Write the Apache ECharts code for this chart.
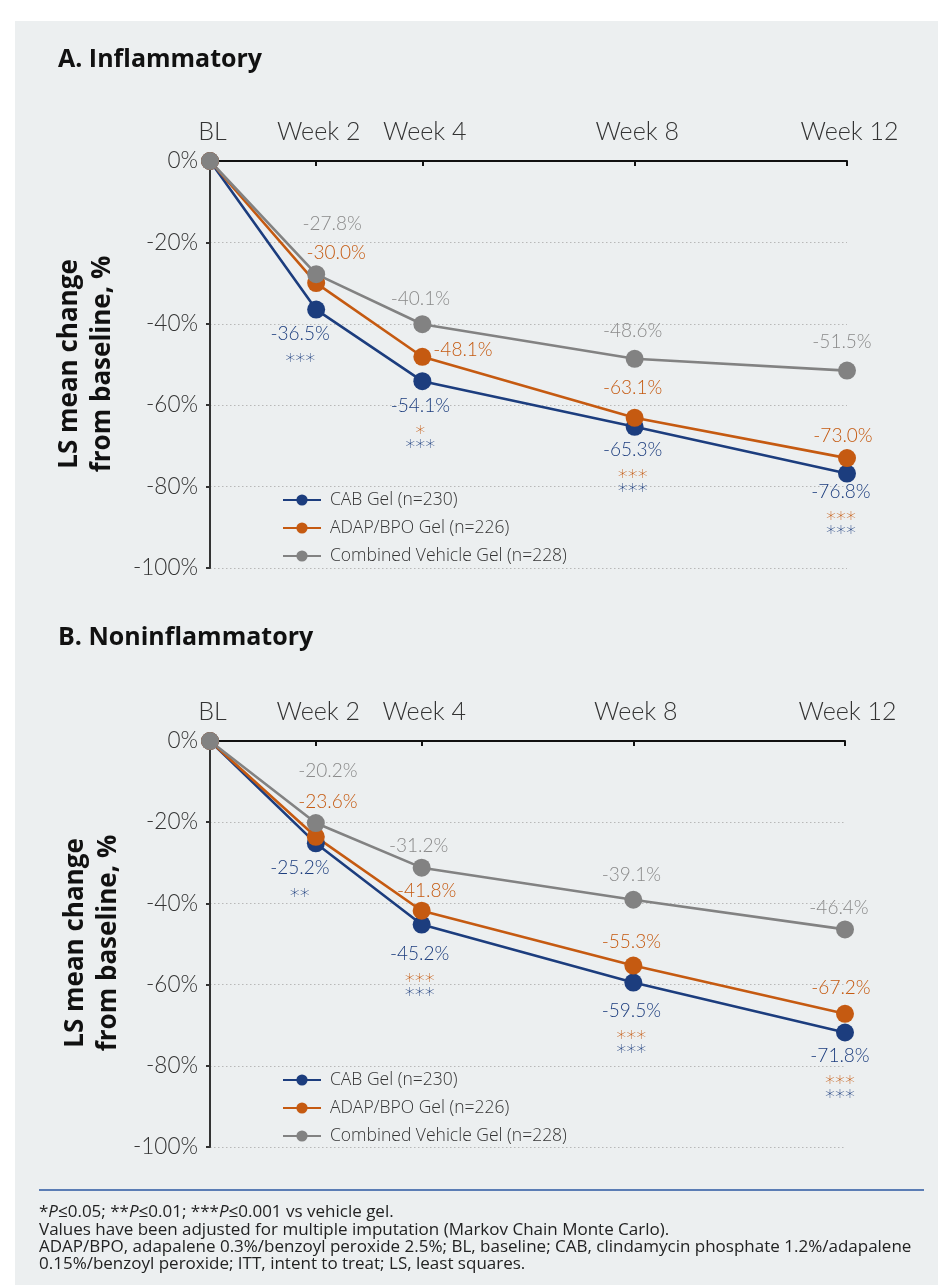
<!DOCTYPE html>
<html>
<head>
<meta charset="utf-8">
<script src="https://cdn.jsdelivr.net/npm/echarts@6/dist/echarts.min.js"></script>
<style>
  html, body { margin: 0; padding: 0; background: #ffffff; }
  #c { width: 938px; height: 1285px; }
</style>
</head>
<body>
<div id="c"></div>
<script>
// ---------------- DATA ----------------
const weeks = [0, 2, 4, 8, 12];
const weekLabels = ['BL', 'Week 2', 'Week 4', 'Week 8', 'Week 12'];
const seriesNames = ['CAB Gel (n=230)', 'ADAP/BPO Gel (n=226)', 'Combined Vehicle Gel (n=228)'];

const inflamCAB  = [0, -36.5, -54.1, -65.3, -76.8];
const inflamADAP = [0, -30.0, -48.1, -63.1, -73.0];
const inflamVeh  = [0, -27.8, -40.1, -48.6, -51.5];
const inflamSigCAB  = ['', '***', '***', '***', '***'];
const inflamSigADAP = ['', '', '*', '***', '***'];

const noninflamCAB  = [0, -25.2, -45.2, -59.5, -71.8];
const noninflamADAP = [0, -23.6, -41.8, -55.3, -67.2];
const noninflamVeh  = [0, -20.2, -31.2, -39.1, -46.4];
const noninflamSigCAB  = ['', '**', '***', '***', '***'];
const noninflamSigADAP = ['', '', '***', '***', '***'];

const panelTitles = ['A. Inflammatory', 'B. Noninflammatory'];
const yAxisTitle = 'LS mean change\nfrom baseline, %';
const footnotes = [
  '*{i|P}≤0.05; **{i|P}≤0.01; ***{i|P}≤0.001 vs vehicle gel.',
  'Values have been adjusted for multiple imputation (Markov Chain Monte Carlo).',
  'ADAP/BPO, adapalene 0.3%/benzoyl peroxide 2.5%; BL, baseline; CAB, clindamycin phosphate 1.2%/adapalene',
  '0.15%/benzoyl peroxide; ITT, intent to treat; LS, least squares.'
];

// ---------------- STYLE / LAYOUT ----------------
const COL_CAB = '#1C3D7E', COL_ADAP = '#C55A11', COL_VEH = '#828282', COL_VEH_TXT = '#8A8A8A';
const FONT = 'Lato, "Open Sans", "DejaVu Sans", sans-serif';
const FONT_W = '"Open Sans", Lato, "DejaVu Sans", sans-serif';
const FONT_STAR = '"DejaVu Sans", sans-serif';
// label offsets relative to each point [dx, dy, align]
const labelLayout = {
  A: {
    cab:  [null, [-16, 24], [-2, 25], [-2, 23], [-6, 18]],
    adap: [null, [20, -30], [11, -7, 'left'], [-2, -30], [-4, -22]],
    veh:  [null, [16, -50], [-2, -25], [-2, -28], [-5, -29]]
  },
  B: {
    cab:  [null, [-16, 25], [-2, 29], [-2, 28], [-5, 23]],
    adap: [null, [12, -35], [5, -20], [-2, -24], [-4, -26]],
    veh:  [null, [12, -52], [-3, -22], [-2, -25], [-6, -22]]
  }
};
const grids = [
  { left: 210, top: 161, width: 637, height: 407 },
  { left: 210, top: 741, width: 635, height: 406 }
];

function makeSeries(name, vals, color, txtColor, gi, offs, sigSelf, sigOther) {
  const isCab = !!sigSelf;
  const data = weeks.map((w, i) => {
    const item = { value: [w, vals[i]] };
    if (i === 0) {
      item.label = { show: false };
    } else {
      const o = offs[i];
      item.label = {
        offset: [o[0], isCab ? o[1] - 11 : o[1]],
        align: o[2] || 'center',
        verticalAlign: isCab ? 'top' : 'middle'
      };
    }
    return item;
  });
  return {
    name: name,
    type: 'line',
    xAxisIndex: gi,
    yAxisIndex: gi,
    data: data,
    clip: false,
    symbol: 'circle',
    symbolSize: 18,
    lineStyle: { color: color, width: 2.6 },
    itemStyle: { color: color },
    emphasis: { disabled: true },
    label: {
      show: true,
      position: 'inside',
      fontFamily: FONT,
      fontSize: 19,
      fontWeight: 300,
      color: txtColor,
      formatter: function (p) {
        const v = vals[p.dataIndex].toFixed(1) + '%';
        if (!isCab) return v;
        let s = '{v|' + v + '}\n{g| }';
        if (sigOther[p.dataIndex]) s += '\n{so|' + sigOther[p.dataIndex] + '}';
        if (sigSelf[p.dataIndex]) s += '\n{sb|' + sigSelf[p.dataIndex] + '}';
        return s;
      },
      rich: {
        v: { fontFamily: FONT, fontSize: 19, fontWeight: 300, color: COL_CAB, lineHeight: 22 },
        g: { fontSize: 6, lineHeight: 10 },
        so: { fontFamily: FONT_STAR, fontSize: 20, color: COL_ADAP, lineHeight: 14 },
        sb: { fontFamily: FONT_STAR, fontSize: 20, color: COL_CAB, lineHeight: 14 }
      }
    },
    z: 3
  };
}

function xAxisFor(gi) {
  return {
    type: 'value', gridIndex: gi, position: 'top', min: 0, max: 12,
    axisLine: { show: true, onZero: false, lineStyle: { color: '#111', width: 2 } },
    axisTick: { show: true, inside: true, length: 5, customValues: [2, 4, 8, 12], lineStyle: { color: '#111', width: 2 } },
    axisLabel: {
      customValues: weeks,
      margin: 17,
      padding: [0, 0, 0, 5],
      fontFamily: FONT, fontSize: 25, fontWeight: 300, color: '#333',
      formatter: function (v) { return weekLabels[weeks.indexOf(v)]; }
    },
    splitLine: { show: false }
  };
}
function yAxisFor(gi) {
  return {
    type: 'value', gridIndex: gi, min: -100, max: 0, interval: 20,
    axisLine: { show: true, onZero: false, lineStyle: { color: '#333', width: 2 } },
    axisTick: { show: true, length: 4, lineStyle: { color: '#333', width: 2 } },
    axisLabel: { margin: 12, fontFamily: FONT, fontSize: 22.5, fontWeight: 300, color: '#333', formatter: '{value}%' },
    splitLine: { show: true, lineStyle: { color: '#b8b8b8', width: 1, type: [1.5, 2.5] } }
  };
}
function legendFor(top) {
  return {
    orient: 'vertical', left: 277, top: top,
    itemWidth: 38, itemHeight: 14, itemGap: 10,
    selectedMode: false,
    textStyle: { fontFamily: FONT_W, fontSize: 17.5, fontWeight: 300, color: '#333', padding: [0, 0, 0, 4] },
    data: seriesNames
  };
}

const graphic = [
  { type: 'rect', z: -10, shape: { x: 15, y: 21, width: 923, height: 1264 }, style: { fill: '#ECEFF0' } },
  { type: 'text', x: 58, y: 60, style: { text: panelTitles[0], fontFamily: FONT_W, fontSize: 25, fontWeight: 'bold', fill: '#111', verticalAlign: 'middle' } },
  { type: 'text', x: 58, y: 638, style: { text: panelTitles[1], fontFamily: FONT_W, fontSize: 25, fontWeight: 'bold', fill: '#111', verticalAlign: 'middle' } },
  { type: 'text', x: 86, y: 364, rotation: Math.PI / 2, style: { text: yAxisTitle, fontFamily: FONT_W, fontSize: 26, fontWeight: 'bold', fill: '#111', align: 'center', verticalAlign: 'middle', lineHeight: 33 } },
  { type: 'text', x: 92, y: 943, rotation: Math.PI / 2, style: { text: yAxisTitle, fontFamily: FONT_W, fontSize: 26, fontWeight: 'bold', fill: '#111', align: 'center', verticalAlign: 'middle', lineHeight: 33 } },
  { type: 'line', shape: { x1: 39, y1: 1190, x2: 924, y2: 1190 }, style: { stroke: '#5B7DB5', lineWidth: 2 } }
];
const footY = [1212, 1230, 1247, 1264];
footnotes.forEach(function (t, i) {
  graphic.push({
    type: 'text', x: 39, y: footY[i],
    style: {
      text: t, fontFamily: FONT_W, fontSize: 17, fill: '#222', verticalAlign: 'middle',
      rich: { i: { fontFamily: FONT_W, fontSize: 17, fontStyle: 'italic', fill: '#222' } }
    }
  });
});

const chart = echarts.init(document.getElementById('c'), null, { renderer: 'canvas', width: 938, height: 1285 });
chart.setOption({
  backgroundColor: '#ffffff',
  animation: false,
  grid: grids,
  xAxis: [xAxisFor(0), xAxisFor(1)],
  yAxis: [yAxisFor(0), yAxisFor(1)],
  legend: [legendFor(486), legendFor(1066)],
  graphic: graphic,
  series: [
    makeSeries(seriesNames[0], inflamCAB, COL_CAB, COL_CAB, 0, labelLayout.A.cab, inflamSigCAB, inflamSigADAP),
    makeSeries(seriesNames[1], inflamADAP, COL_ADAP, COL_ADAP, 0, labelLayout.A.adap),
    makeSeries(seriesNames[2], inflamVeh, COL_VEH, COL_VEH_TXT, 0, labelLayout.A.veh),
    makeSeries(seriesNames[0], noninflamCAB, COL_CAB, COL_CAB, 1, labelLayout.B.cab, noninflamSigCAB, noninflamSigADAP),
    makeSeries(seriesNames[1], noninflamADAP, COL_ADAP, COL_ADAP, 1, labelLayout.B.adap),
    makeSeries(seriesNames[2], noninflamVeh, COL_VEH, COL_VEH_TXT, 1, labelLayout.B.veh)
  ]
});
</script>
</body>
</html>
